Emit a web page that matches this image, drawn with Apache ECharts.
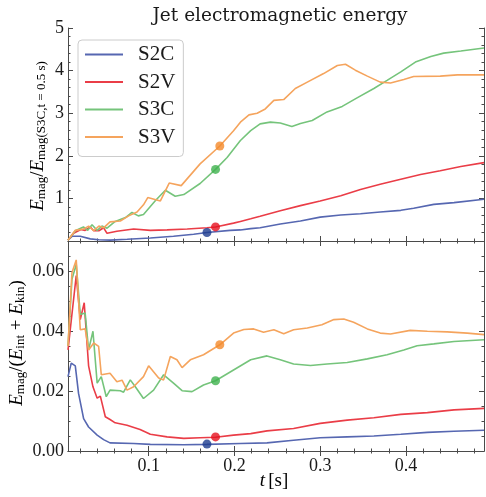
<!DOCTYPE html>
<html><head><meta charset="utf-8">
<script src="https://cdn.jsdelivr.net/npm/echarts@6/dist/echarts.min.js"></script>
<style>html,body{margin:0;padding:0;background:#fff}#c{width:486px;height:497px}</style>
</head><body><div id="c"></div>
<script>
// ---------- data ----------
const names = ['S2C', 'S2V', 'S3C', 'S3V'];

const S2C_top = [[0.006,0.02],[0.0106,0.11],[0.0203,0.11],[0.032,0.05],[0.042,0.03],[0.055,0.02],[0.075,0.04],[0.102,0.07],[0.129,0.11],[0.1525,0.16],[0.168,0.20],[0.195,0.25],[0.207,0.26],[0.219,0.29],[0.230,0.31],[0.2535,0.40],[0.277,0.47],[0.300,0.56],[0.324,0.61],[0.347,0.64],[0.370,0.68],[0.394,0.72],[0.409,0.77],[0.4325,0.86],[0.456,0.90],[0.491,0.98]];
const S2V_top = [[0.006,0.02],[0.0125,0.18],[0.021,0.27],[0.026,0.25],[0.032,0.33],[0.036,0.24],[0.042,0.24],[0.0475,0.31],[0.0515,0.18],[0.063,0.23],[0.0825,0.28],[0.102,0.25],[0.1215,0.26],[0.145,0.28],[0.168,0.31],[0.178,0.33],[0.199,0.42],[0.207,0.46],[0.219,0.52],[0.230,0.58],[0.2535,0.71],[0.277,0.83],[0.300,0.94],[0.324,1.06],[0.347,1.21],[0.370,1.33],[0.394,1.45],[0.417,1.56],[0.440,1.65],[0.464,1.75],[0.491,1.84]];
const S3C_top = [[0.006,0.02],[0.0145,0.24],[0.024,0.33],[0.029,0.25],[0.034,0.38],[0.040,0.25],[0.0456,0.35],[0.0515,0.30],[0.061,0.46],[0.073,0.55],[0.0806,0.67],[0.088,0.59],[0.094,0.62],[0.108,0.95],[0.1195,1.19],[0.131,1.05],[0.141,1.09],[0.160,1.35],[0.178,1.68],[0.1915,1.96],[0.207,2.36],[0.219,2.59],[0.230,2.75],[0.242,2.79],[0.2535,2.77],[0.267,2.69],[0.277,2.76],[0.2907,2.83],[0.308,3.03],[0.3257,3.16],[0.343,3.36],[0.3626,3.58],[0.378,3.77],[0.394,3.97],[0.411,4.20],[0.429,4.33],[0.444,4.41],[0.464,4.46],[0.491,4.53]];
const S3V_top = [[0.006,0.02],[0.0145,0.25],[0.024,0.28],[0.030,0.35],[0.036,0.24],[0.042,0.35],[0.0475,0.31],[0.055,0.45],[0.067,0.47],[0.0767,0.59],[0.0865,0.68],[0.094,0.85],[0.099,1.02],[0.1137,0.94],[0.124,1.36],[0.138,1.30],[0.160,1.81],[0.183,2.23],[0.199,2.59],[0.207,2.79],[0.217,2.96],[0.2265,3.0],[0.236,3.1],[0.246,3.30],[0.2575,3.32],[0.271,3.58],[0.285,3.73],[0.304,3.93],[0.320,4.12],[0.3295,4.15],[0.341,4.01],[0.355,3.87],[0.370,3.73],[0.382,3.71],[0.3975,3.79],[0.409,3.86],[0.440,3.87],[0.460,3.90],[0.491,3.90]];

const S2C_bot = [[0.006,0.0248],[0.0098,0.0293],[0.0145,0.0284],[0.0183,0.0192],[0.0242,0.0108],[0.030,0.008],[0.040,0.0053],[0.0475,0.0038],[0.055,0.0027],[0.0825,0.0025],[0.102,0.0022],[0.141,0.0021],[0.168,0.0022],[0.207,0.0025],[0.238,0.0027],[0.269,0.0036],[0.300,0.0044],[0.3315,0.0047],[0.3626,0.005],[0.394,0.0056],[0.425,0.0062],[0.456,0.0066],[0.491,0.0069]];
const S2V_bot = [[0.006,0.0337],[0.0156,0.0585],[0.0203,0.0438],[0.0249,0.0494],[0.030,0.0284],[0.0351,0.0214],[0.040,0.0176],[0.0437,0.0183],[0.0495,0.0114],[0.055,0.0105],[0.061,0.0094],[0.0748,0.0086],[0.090,0.0072],[0.102,0.0056],[0.1215,0.0047],[0.141,0.0042],[0.160,0.0044],[0.178,0.0046],[0.199,0.0053],[0.219,0.0058],[0.238,0.0067],[0.269,0.0075],[0.300,0.0092],[0.3315,0.0103],[0.3626,0.0111],[0.394,0.0122],[0.425,0.0128],[0.456,0.0137],[0.491,0.0142]];
const S3C_bot = [[0.006,0.035],[0.0106,0.0572],[0.0156,0.0622],[0.0203,0.0455],[0.026,0.046],[0.030,0.0337],[0.0351,0.0399],[0.040,0.0226],[0.0448,0.0248],[0.0506,0.0181],[0.055,0.0203],[0.067,0.0201],[0.0708,0.0196],[0.0786,0.0237],[0.0845,0.0214],[0.094,0.0175],[0.1058,0.0203],[0.1175,0.0254],[0.129,0.0226],[0.139,0.0201],[0.1506,0.0198],[0.164,0.022],[0.178,0.0234],[0.199,0.027],[0.219,0.0304],[0.238,0.0317],[0.2535,0.0304],[0.269,0.029],[0.2887,0.0285],[0.308,0.029],[0.3315,0.0295],[0.355,0.0307],[0.378,0.0321],[0.3975,0.0337],[0.413,0.0351],[0.4325,0.0357],[0.456,0.0365],[0.491,0.0371]];
const S3V_bot = [[0.006,0.035],[0.0106,0.0594],[0.0156,0.0637],[0.0203,0.0404],[0.026,0.0407],[0.030,0.0337],[0.036,0.036],[0.0417,0.0349],[0.0448,0.0254],[0.055,0.0259],[0.063,0.0231],[0.069,0.0236],[0.0748,0.0203],[0.0825,0.0214],[0.094,0.0248],[0.100,0.0284],[0.1117,0.0243],[0.1175,0.0237],[0.1253,0.0315],[0.133,0.0304],[0.139,0.0278],[0.1486,0.0304],[0.164,0.0321],[0.183,0.0354],[0.199,0.0393],[0.211,0.0405],[0.2225,0.0407],[0.234,0.0396],[0.246,0.0404],[0.2575,0.0391],[0.269,0.0404],[0.285,0.041],[0.302,0.0421],[0.316,0.0438],[0.3275,0.044],[0.339,0.0429],[0.355,0.0407],[0.370,0.0393],[0.382,0.039],[0.405,0.0402],[0.425,0.0399],[0.448,0.0397],[0.4715,0.0393],[0.491,0.0388]];

// marked instants (dots)
const dotT   = [0.168, 0.178, 0.178, 0.183];
const dotTop = [0.20, 0.33, 1.68, 2.23];
const dotBot = [0.0023, 0.0047, 0.0234, 0.0354];

// axis ticks
const xRange = [0.006, 0.491];
const xMajor = [0.1, 0.2, 0.3, 0.4];
const xMinor = [0.02,0.04,0.06,0.08,0.12,0.14,0.16,0.18,0.22,0.24,0.26,0.28,0.32,0.34,0.36,0.38,0.42,0.44,0.46,0.48];
const yTopRange = [0, 5];
const yTopMajor = [1, 2, 3, 4, 5];
const yTopMinor = [0.2,0.4,0.6,0.8,1.2,1.4,1.6,1.8,2.2,2.4,2.6,2.8,3.2,3.4,3.6,3.8,4.2,4.4,4.6,4.8];
const yBotRange = [0, 0.07];
const yBotMajor = [0, 0.02, 0.04, 0.06];
const yBotMinor = [0.005,0.01,0.015,0.025,0.03,0.035,0.045,0.05,0.055,0.065];

// ---------- styles ----------
const lineColors = ['#5667b1', '#ea3d47', '#75c47b', '#f5a45d'];
const dotColors  = ['#1d3c8e', '#e5121f', '#3fb24e', '#f48a2a'];
const FRAME = '#4a4a4a';
const SERIF = 'Liberation Serif';

const chart = echarts.init(document.getElementById('c'), null, {renderer: 'canvas'});

function xAxesFor(grid, labels) {
  const base = {gridIndex: grid, type: 'value', min: xRange[0], max: xRange[1], splitLine: {show: false}};
  const tickStyle = {color: FRAME, width: 1};
  return [
    Object.assign({}, base, {position: 'bottom',
      axisLine: {show: true, lineStyle: {color: FRAME, width: 1}},
      axisTick: {show: true, inside: true, length: 5, customValues: xMajor, lineStyle: tickStyle},
      axisLabel: {show: labels, customValues: xMajor, margin: 6, fontFamily: SERIF, fontSize: 18, color: '#1a1a1a'}}),
    Object.assign({}, base, {position: 'top',
      axisLine: {show: true, lineStyle: {color: FRAME, width: 1}},
      axisTick: {show: true, inside: true, length: 5, customValues: xMajor, lineStyle: tickStyle},
      axisLabel: {show: false}}),
    Object.assign({}, base, {position: 'bottom',
      axisLine: {show: false},
      axisTick: {show: true, inside: true, length: 2.5, customValues: xMinor, lineStyle: tickStyle},
      axisLabel: {show: false}}),
    Object.assign({}, base, {position: 'top',
      axisLine: {show: false},
      axisTick: {show: true, inside: true, length: 2.5, customValues: xMinor, lineStyle: tickStyle},
      axisLabel: {show: false}})
  ];
}
function yAxesFor(grid, range, major, minor, fmt) {
  const base = {gridIndex: grid, type: 'value', min: range[0], max: range[1], splitLine: {show: false}};
  const tickStyle = {color: FRAME, width: 1};
  return [
    Object.assign({}, base, {position: 'left',
      axisLine: {show: true, lineStyle: {color: FRAME, width: 1}},
      axisTick: {show: true, inside: true, length: 5, customValues: major, lineStyle: tickStyle},
      axisLabel: {show: true, customValues: major, margin: 4, fontFamily: SERIF, fontSize: 18, color: '#1a1a1a', formatter: fmt}}),
    Object.assign({}, base, {position: 'right',
      axisLine: {show: true, lineStyle: {color: FRAME, width: 1}},
      axisTick: {show: true, inside: true, length: 5, customValues: major, lineStyle: tickStyle},
      axisLabel: {show: false}}),
    Object.assign({}, base, {position: 'left',
      axisLine: {show: false},
      axisTick: {show: true, inside: true, length: 2.5, customValues: minor, lineStyle: tickStyle},
      axisLabel: {show: false}}),
    Object.assign({}, base, {position: 'right',
      axisLine: {show: false},
      axisTick: {show: true, inside: true, length: 2.5, customValues: minor, lineStyle: tickStyle},
      axisLabel: {show: false}})
  ];
}

const topSets = [S2C_top, S2V_top, S3C_top, S3V_top];
const botSets = [S2C_bot, S2V_bot, S3C_bot, S3V_bot];
const series = [];
names.forEach((n, i) => {
  series.push({name: n, type: 'line', xAxisIndex: 0, yAxisIndex: 0, data: topSets[i], symbol: 'none',
    lineStyle: {color: lineColors[i], width: 1.6}, itemStyle: {color: lineColors[i]}, z: 2 + i, silent: true});
  series.push({name: n, type: 'line', xAxisIndex: 4, yAxisIndex: 4, data: botSets[i], symbol: 'none',
    lineStyle: {color: lineColors[i], width: 1.6}, itemStyle: {color: lineColors[i]}, z: 2 + i, silent: true});
});
series.push({type: 'scatter', xAxisIndex: 0, yAxisIndex: 0, symbolSize: 9, z: 10, silent: true,
  data: dotT.map((t, i) => ({value: [t, dotTop[i]], itemStyle: {color: dotColors[i]}}))});
series.push({type: 'scatter', xAxisIndex: 4, yAxisIndex: 4, symbolSize: 9, z: 10, silent: true,
  data: dotT.map((t, i) => ({value: [t, dotBot[i]], itemStyle: {color: dotColors[i]}}))});

const labelRich = {
  e: {fontFamily: SERIF, fontStyle: 'italic', fontSize: 19, color: '#1a1a1a'},
  n: {fontFamily: SERIF, fontSize: 19, color: '#1a1a1a'},
  s: {fontFamily: SERIF, fontSize: 13, color: '#1a1a1a', padding: [8, 0, 0, 0]}
};

chart.setOption({
  animation: false,
  backgroundColor: '#ffffff',
  title: {text: 'Jet electromagnetic energy', left: 275, top: 2, textAlign: 'center',
    textStyle: {fontFamily: 'DejaVu Serif', fontWeight: 'normal', fontSize: 18.5, color: '#1a1a1a'}},
  grid: [
    {left: 68, top: 28, width: 416, height: 213},
    {left: 68, top: 241, width: 416, height: 210}
  ],
  xAxis: xAxesFor(0, false).concat(xAxesFor(1, true)),
  yAxis: yAxesFor(0, yTopRange, yTopMajor, yTopMinor, v => String(v))
    .concat(yAxesFor(1, yBotRange, yBotMajor, yBotMinor, v => v.toFixed(2))),
  legend: {data: names, orient: 'vertical', left: 78, top: 40, icon: 'rect', itemWidth: 38, itemHeight: 2, itemGap: 6.5,
    padding: [4, 8, 9, 7], borderColor: '#cccccc', borderWidth: 1, borderRadius: 4, backgroundColor: '#ffffff',
    textStyle: {fontFamily: SERIF, fontSize: 21, color: '#1a1a1a', lineHeight: 21, padding: [0, 0, 0, 10]}},
  series: series,
  graphic: [
    {type: 'text', x: 38, y: 136, rotation: Math.PI / 2, silent: true,
      style: {text: '{e|E}{s|mag}{n|/}{e|E}{s|mag(S3C,t = 0.5 s)}', rich: labelRich, align: 'center', verticalAlign: 'middle'}},
    {type: 'text', x: 17, y: 343, rotation: Math.PI / 2, silent: true,
      style: {text: '{e|E}{s|mag}{n|/(}{e|E}{s|int}{n| + }{e|E}{s|kin}{n|)}', rich: labelRich, align: 'center', verticalAlign: 'middle'}},
    {type: 'text', x: 274, y: 481, silent: true,
      style: {text: '{e|t} {n|[s]}', rich: labelRich, align: 'center', verticalAlign: 'middle'}}
  ]
});
</script></body></html>
